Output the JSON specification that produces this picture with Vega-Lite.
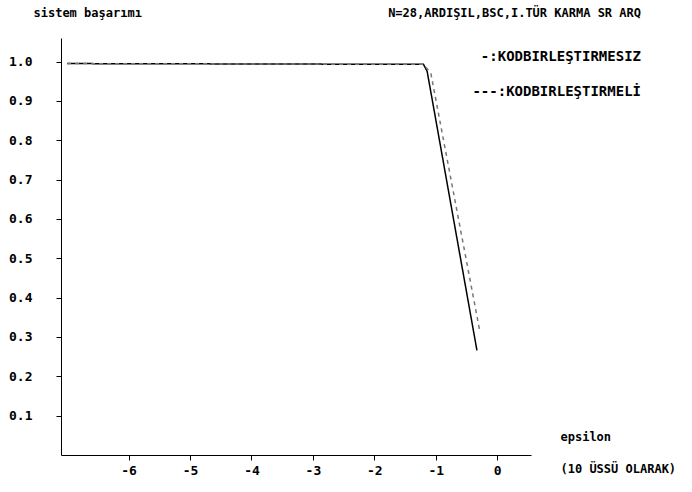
{
  "$schema": "https://vega.github.io/schema/vega-lite/v6.json",
  "autosize": {"type": "none"},
  "width": 470,
  "height": 417,
  "padding": {"left": 61, "top": 38, "right": 161, "bottom": 37},
  "background": "white",
  "title": {
    "text": "N=28,ARDIŞIL,BSC,I.TÜR KARMA SR ARQ",
    "subtitle": ["-:KODBIRLEŞTIRMESIZ", "---:KODBIRLEŞTIRMELİ"],
    "anchor": "end",
    "frame": "group",
    "dx": 110,
    "offset": -94,
    "font": "DejaVu Sans Mono",
    "fontSize": 12,
    "fontWeight": "bold",
    "color": "black",
    "subtitleFont": "DejaVu Sans Mono",
    "subtitleFontSize": 14,
    "subtitleFontWeight": "bold",
    "subtitleColor": "black",
    "subtitleLineHeight": 35,
    "subtitlePadding": 30
  },
  "data": {
    "values": [
      {"series": "KODBIRLEŞTIRMESIZ", "epsilon": -7, "basarim": 0.995},
      {"series": "KODBIRLEŞTIRMESIZ", "epsilon": -4, "basarim": 0.994},
      {"series": "KODBIRLEŞTIRMESIZ", "epsilon": -1.2, "basarim": 0.993},
      {"series": "KODBIRLEŞTIRMESIZ", "epsilon": -1.14, "basarim": 0.975},
      {"series": "KODBIRLEŞTIRMESIZ", "epsilon": -0.33, "basarim": 0.266},
      {"series": "KODBIRLEŞTIRMELİ", "epsilon": -7, "basarim": 0.995},
      {"series": "KODBIRLEŞTIRMELİ", "epsilon": -4, "basarim": 0.994},
      {"series": "KODBIRLEŞTIRMELİ", "epsilon": -1.2, "basarim": 0.993},
      {"series": "KODBIRLEŞTIRMELİ", "epsilon": -1.08, "basarim": 0.97},
      {"series": "KODBIRLEŞTIRMELİ", "epsilon": -0.28, "basarim": 0.312}
    ]
  },
  "mark": {"type": "line", "strokeWidth": 1.5},
  "encoding": {
    "x": {
      "field": "epsilon",
      "type": "quantitative",
      "scale": {"domain": [-7.1, 0.55], "nice": false, "zero": false},
      "axis": {
        "values": [-6, -5, -4, -3, -2, -1, 0],
        "labelExpr": "toString(datum.value)",
        "grid": false,
        "domainColor": "black",
        "tickColor": "black",
        "tickSize": 5,
        "labelFont": "DejaVu Sans Mono",
        "labelFontSize": 13,
        "labelFontWeight": "bold",
        "labelColor": "black",
        "labelPadding": 4,
        "title": ["epsilon", "(10 ÜSSÜ OLARAK)"],
        "titleFont": "DejaVu Sans Mono",
        "titleFontSize": 12,
        "titleFontWeight": "bold",
        "titleColor": "black",
        "titleAlign": "left",
        "titleBaseline": "top",
        "titleX": 499,
        "titleY": -24,
        "titleLineHeight": 32
      }
    },
    "y": {
      "field": "basarim",
      "type": "quantitative",
      "scale": {"domain": [0, 1.06], "nice": false, "zero": false},
      "axis": {
        "values": [0.1, 0.2, 0.3, 0.4, 0.5, 0.6, 0.7, 0.8, 0.9, 1.0],
        "format": ".1f",
        "grid": false,
        "domainColor": "black",
        "tickColor": "black",
        "tickSize": 5,
        "labelFont": "DejaVu Sans Mono",
        "labelFontSize": 13,
        "labelFontWeight": "bold",
        "labelColor": "black",
        "labelPadding": 24,
        "title": "sistem başarımı",
        "titleFont": "DejaVu Sans Mono",
        "titleFontSize": 12,
        "titleFontWeight": "bold",
        "titleColor": "black",
        "titleAngle": 0,
        "titleAlign": "left",
        "titleBaseline": "middle",
        "titleX": -28,
        "titleY": -26
      }
    },
    "color": {
      "field": "series",
      "type": "nominal",
      "scale": {"domain": ["KODBIRLEŞTIRMESIZ", "KODBIRLEŞTIRMELİ"], "range": ["black", "#777777"]},
      "legend": null
    },
    "strokeDash": {
      "field": "series",
      "type": "nominal",
      "scale": {"domain": ["KODBIRLEŞTIRMESIZ", "KODBIRLEŞTIRMELİ"], "range": [[1, 0], [4, 4]]},
      "legend": null
    }
  },
  "config": {"view": {"stroke": null}}
}
